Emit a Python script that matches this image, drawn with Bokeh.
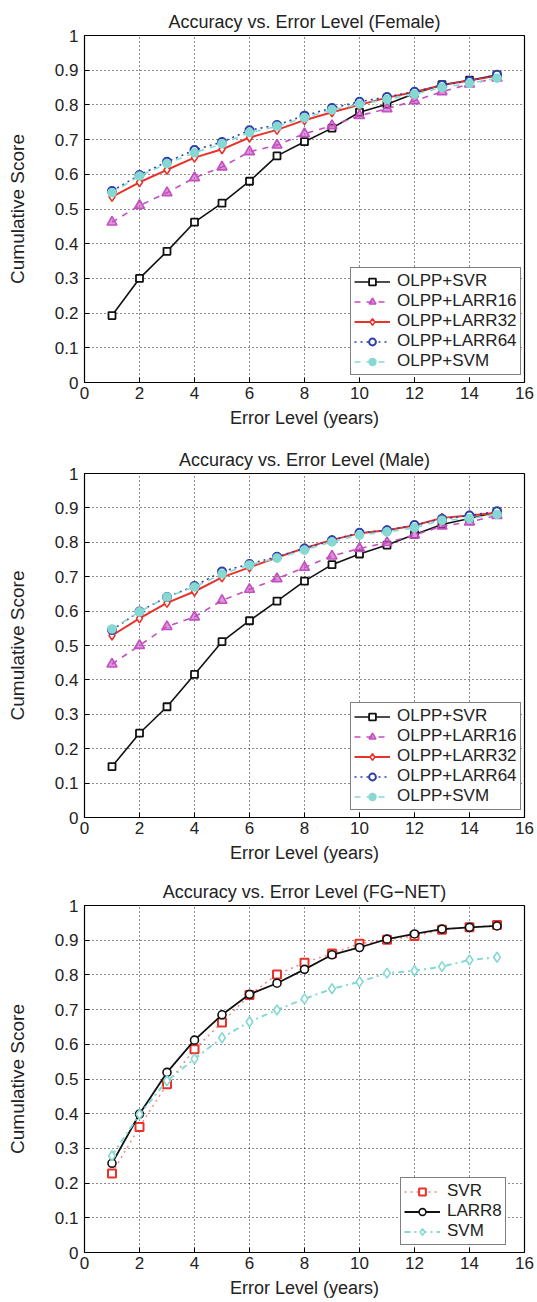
from bokeh.plotting import figure
from bokeh.layouts import column
from bokeh.models import Range1d, FixedTicker, Legend
from bokeh.embed import file_html
from bokeh.resources import INLINE

error_levels = list(range(1, 16))
x_ticks = [0, 2, 4, 6, 8, 10, 12, 14, 16]
y_ticks = [0, 0.1, 0.2, 0.3, 0.4, 0.5, 0.6, 0.7, 0.8, 0.9, 1]
y_tick_labels = ["0", "0.1", "0.2", "0.3", "0.4", "0.5", "0.6", "0.7", "0.8", "0.9", "1"]

titles = ["Accuracy vs. Error Level (Female)",
          "Accuracy vs. Error Level (Male)",
          "Accuracy vs. Error Level (FG\u2212NET)"]

# Female
female_olpp_svr = [0.193, 0.300, 0.378, 0.462, 0.517, 0.580, 0.653, 0.694, 0.733, 0.779, 0.802, 0.833, 0.858, 0.871, 0.886]
female_olpp_larr16 = [0.462, 0.510, 0.547, 0.590, 0.621, 0.665, 0.684, 0.717, 0.740, 0.769, 0.789, 0.812, 0.838, 0.860, 0.877]
female_olpp_larr32 = [0.535, 0.577, 0.613, 0.648, 0.672, 0.706, 0.728, 0.756, 0.779, 0.800, 0.821, 0.837, 0.857, 0.870, 0.884]
female_olpp_larr64 = [0.552, 0.598, 0.636, 0.670, 0.693, 0.727, 0.742, 0.769, 0.791, 0.809, 0.823, 0.838, 0.857, 0.869, 0.887]
female_olpp_svm = [0.547, 0.595, 0.631, 0.662, 0.688, 0.720, 0.738, 0.763, 0.786, 0.802, 0.816, 0.831, 0.850, 0.862, 0.877]

# Male
male_olpp_svr = [0.148, 0.245, 0.322, 0.416, 0.511, 0.572, 0.629, 0.687, 0.735, 0.766, 0.792, 0.823, 0.852, 0.869, 0.888]
male_olpp_larr16 = [0.446, 0.500, 0.555, 0.583, 0.631, 0.663, 0.694, 0.727, 0.760, 0.782, 0.799, 0.821, 0.847, 0.859, 0.878]
male_olpp_larr32 = [0.529, 0.579, 0.624, 0.657, 0.698, 0.727, 0.756, 0.783, 0.807, 0.826, 0.835, 0.849, 0.871, 0.878, 0.886]
male_olpp_larr64 = [0.545, 0.599, 0.641, 0.673, 0.715, 0.737, 0.758, 0.782, 0.806, 0.828, 0.835, 0.850, 0.868, 0.878, 0.890]
male_olpp_svm = [0.548, 0.598, 0.641, 0.670, 0.708, 0.734, 0.754, 0.777, 0.801, 0.821, 0.830, 0.842, 0.864, 0.869, 0.881]

# FG-NET
fgnet_svr = [0.228, 0.362, 0.485, 0.586, 0.663, 0.742, 0.801, 0.835, 0.862, 0.890, 0.901, 0.912, 0.930, 0.937, 0.944]
fgnet_larr8 = [0.257, 0.399, 0.519, 0.612, 0.685, 0.744, 0.776, 0.816, 0.858, 0.879, 0.903, 0.918, 0.932, 0.937, 0.941]
fgnet_svm = [0.279, 0.398, 0.495, 0.558, 0.619, 0.665, 0.699, 0.731, 0.760, 0.780, 0.805, 0.812, 0.824, 0.843, 0.851]

FONT = "Liberation Sans"


def make_fig(title, frame_h, top, bottom):
    p = figure(frame_width=440, frame_height=frame_h,
               x_range=Range1d(0, 16), y_range=Range1d(0, 1),
               output_backend="svg", toolbar_location=None,
               min_border_left=84, min_border_right=13,
               min_border_top=top, min_border_bottom=bottom,
               title=title)
    p.title.text_font = FONT
    p.title.text_font_size = "18px"
    p.title.text_font_style = "normal"
    p.title.text_line_height = 1.0
    p.title.align = "center"
    p.title.vertical_align = "top"
    p.title.text_color = "#222222"
    p.title.standoff = 4
    p.outline_line_color = "black"
    p.outline_line_alpha = 1
    p.outline_line_width = 1.2
    p.background_fill_color = "white"
    p.border_fill_color = "white"
    for ax in (p.xaxis[0], p.yaxis[0]):
        ax.axis_line_color = "black"
        ax.major_tick_in = 5
        ax.major_tick_out = 0
        ax.minor_tick_line_color = None
        ax.major_label_text_font = FONT
        ax.major_label_text_font_size = "17px"
        ax.major_label_text_color = "#222222"
        ax.axis_label_text_font = FONT
        ax.axis_label_text_font_size = "18px"
        ax.axis_label_text_font_style = "normal"
        ax.axis_label_text_color = "#222222"
    p.xaxis.ticker = FixedTicker(ticks=x_ticks)
    p.yaxis.ticker = FixedTicker(ticks=y_ticks)
    p.yaxis.major_label_overrides = {t: s for t, s in zip(y_ticks, y_tick_labels)}
    p.xaxis.major_label_standoff = 4
    p.yaxis.major_label_standoff = 6
    p.xaxis.axis_label = "Error Level (years)"
    p.yaxis.axis_label = "Cumulative Score"
    p.yaxis.axis_label_text_font_size = "19px"
    p.xaxis.axis_label_standoff = 6
    p.yaxis.axis_label_standoff = 24
    for g in (p.xgrid[0], p.ygrid[0]):
        g.grid_line_color = "black"
        g.grid_line_dash = "1 3"
        g.grid_line_alpha = 0.9
        g.grid_line_width = 1
    p.xgrid.ticker = FixedTicker(ticks=x_ticks)
    p.ygrid.ticker = FixedTicker(ticks=y_ticks)
    return p


def add_series(p, y, label, color, dash, marker, size, fill, items, lw=1.6, fill_alpha=1.0, line_color=None, mlw=1.6):
    r1 = p.line(error_levels, y, line_color=line_color or color, line_width=lw, line_dash=dash)
    r2 = p.scatter(error_levels, y, marker=marker, size=size, line_color=color, line_width=mlw,
                   fill_color=fill, fill_alpha=fill_alpha)
    items.append((label, [r1, r2]))


def style_legend(p, items, loc):
    leg = Legend(items=items, location=loc)
    leg.label_text_font = FONT
    leg.label_text_font_size = "17px"
    leg.label_text_line_height = 1.0
    leg.label_text_color = "#222222"
    leg.label_height = 17
    leg.glyph_height = 17
    leg.glyph_width = 36
    leg.label_standoff = 7
    leg.spacing = 0
    leg.padding = 3
    leg.margin = 0
    leg.border_line_color = "black"
    leg.border_line_width = 1.2
    leg.background_fill_alpha = 1
    p.add_layout(leg, "center")


BLACK = "#111111"
MAGENTA = "#c44fc0"
RED = "#e8322a"
BLUE = "#2b3fa8"
CYAN = "#86d8d2"

frames = []
for idx, (svr, l16, l32, l64, svm) in enumerate([
        (female_olpp_svr, female_olpp_larr16, female_olpp_larr32, female_olpp_larr64, female_olpp_svm),
        (male_olpp_svr, male_olpp_larr16, male_olpp_larr32, male_olpp_larr64, male_olpp_svm)]):
    if idx == 0:
        p = make_fig(titles[0], 347, 35, 56)
    else:
        p = make_fig(titles[1], 344, 35, 53)
    items = []
    add_series(p, svr, "OLPP+SVR", BLACK, "solid", "square", 7, "white", items, mlw=1.8)
    add_series(p, l16, "OLPP+LARR16", MAGENTA, "dashed", "triangle", 10, MAGENTA, items, fill_alpha=0.6)
    add_series(p, l32, "OLPP+LARR32", RED, "solid", "diamond", 9, "white", items, lw=2)
    add_series(p, l64, "OLPP+LARR64", BLUE, "dotted", "circle", 8, "white", items, mlw=2)
    add_series(p, svm, "OLPP+SVM", CYAN, "dashed", "circle", 8, CYAN, items)
    style_legend(p, items, (266, 7))
    frames.append(p)

p3 = make_fig(titles[2], 347, 35, 50)
items = []
add_series(p3, fgnet_svr, "SVR", RED, "dotted", "square", 8, "white", items, lw=1.5, line_color="#f08a80", mlw=2)
add_series(p3, fgnet_larr8, "LARR8", BLACK, "solid", "circle", 8, "white", items, lw=1.8)
add_series(p3, fgnet_svm, "SVM", CYAN, "dashdot", "diamond", 10, "white", items, lw=2)
style_legend(p3, items, (316, 7))
frames.append(p3)

layout = column(*frames, spacing=0)
open("out.html", "w").write(file_html(layout, INLINE))
